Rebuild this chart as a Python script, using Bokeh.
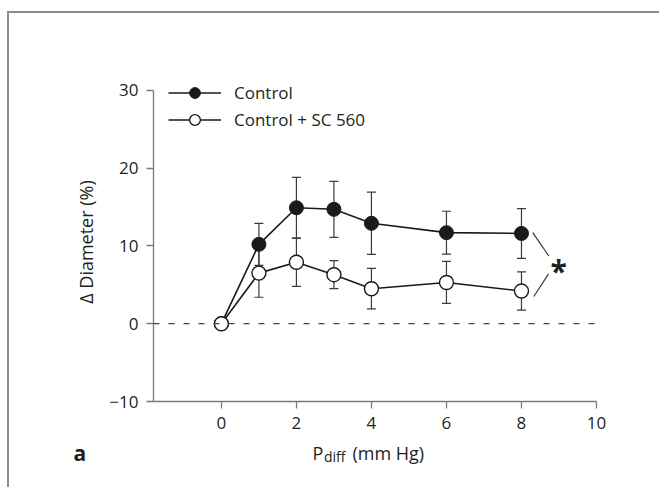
from bokeh.plotting import figure
from bokeh.layouts import column
from bokeh.models import (ColumnDataSource, Whisker, TeeHead, Span, Label, Legend,
                          LegendItem, FixedTicker, Range1d)
from bokeh.embed import file_html
from bokeh.resources import INLINE

# ---- data ----
pressure = [0, 1, 2, 3, 4, 6, 8]
control = [0, 10.2, 14.9, 14.7, 12.9, 11.7, 11.6]
control_err = [0, 2.7, 3.9, 3.6, 4.0, 2.75, 3.2]
sc560 = [0, 6.5, 7.9, 6.3, 4.5, 5.3, 4.2]
sc560_err = [0, 3.1, 3.1, 1.8, 2.6, 2.7, 2.45]
x_ticks = [0, 2, 4, 6, 8, 10]
y_ticks = [-10, 0, 10, 20, 30]
series_names = ["Control", "Control + SC 560"]

FONT = "Open Sans"
TXT = "#231f20"
AXC = "#7a7a7a"
W = 650
QH = 52

p = figure(width=W, height=422, output_backend="svg", toolbar_location=None,
           x_range=Range1d(-1.81, 10), y_range=Range1d(-10, 31),
           min_border_left=144, min_border_right=63, min_border_top=69,
           min_border_bottom=34)
p.frame_align = False
p.outline_line_color = None
p.xgrid.visible = False
p.ygrid.visible = False

for ax in (p.xaxis[0], p.yaxis[0]):
    ax.axis_line_color = AXC
    ax.axis_line_width = 1.3
    ax.major_tick_line_color = AXC
    ax.major_tick_line_width = 1.3
    ax.major_tick_out = 7
    ax.major_tick_in = 0
    ax.minor_tick_line_color = None
    ax.major_label_text_font = FONT
    ax.major_label_text_font_size = "17px"
    ax.major_label_text_color = TXT
p.xaxis.ticker = FixedTicker(ticks=x_ticks)
p.yaxis.ticker = FixedTicker(ticks=y_ticks)
p.yaxis.bounds = (y_ticks[0], y_ticks[-1])
p.yaxis.major_label_overrides = {t: (str(t).replace("-", "\u2212")) for t in y_ticks}
p.xaxis.major_label_standoff = 8
p.yaxis.major_label_standoff = 8
p.yaxis.axis_label = "\u0394 Diameter (%)"
p.yaxis.axis_label_text_font = FONT
p.yaxis.axis_label_text_font_size = "18px"
p.yaxis.axis_label_text_font_style = "normal"
p.yaxis.axis_label_text_color = TXT
p.yaxis.axis_label_standoff = 8

# zero reference line
p.add_layout(Span(location=0, dimension="width", line_color="#444444",
                  line_width=1.2, line_dash="6 9"))

# error bars (skip the baseline point)
src_c = ColumnDataSource(dict(x=pressure[1:],
                              up=[v + e for v, e in zip(control[1:], control_err[1:])],
                              lo=[v - e for v, e in zip(control[1:], control_err[1:])]))
src_s = ColumnDataSource(dict(x=pressure[1:],
                              up=[v + e for v, e in zip(sc560[1:], sc560_err[1:])],
                              lo=[v - e for v, e in zip(sc560[1:], sc560_err[1:])]))
for src in (src_c, src_s):
    w = Whisker(source=src, base="x", upper="up", lower="lo",
                line_color="#3a3a3a", line_width=1.2,
                upper_head=TeeHead(size=9, line_color="#3a3a3a", line_width=1.2),
                lower_head=TeeHead(size=9, line_color="#3a3a3a", line_width=1.2))
    p.add_layout(w)

lc = p.line(pressure, control, line_color="#1a1a1a", line_width=1.6)
mc = p.scatter(pressure, control, size=14, fill_color="#1a1a1a", line_color="#1a1a1a")
ls = p.line(pressure, sc560, line_color="#1a1a1a", line_width=1.6)
ms = p.scatter(pressure, sc560, size=14, fill_color="white", line_color="#1a1a1a",
               line_width=1.4)

# significance bracket
p.segment(x0=[8.3, 8.33], y0=[11.7, 3.5], x1=[8.73, 8.72], y1=[8.7, 6.4],
          line_color="#3a3a3a", line_width=1.2)
p.add_layout(Label(x=8.99, y=7.46, text="*", text_font=FONT, text_font_size="30px",
                   text_font_style="bold", text_color=TXT, text_align="center",
                   text_baseline="middle", y_offset=-5))

legend = Legend(items=[LegendItem(label=series_names[0], renderers=[lc, mc]),
                       LegendItem(label=series_names[1], renderers=[ls, ms])],
                location=(15, 268), glyph_width=53, glyph_height=27, spacing=0,
                label_standoff=13, padding=0, margin=0, border_line_color=None,
                background_fill_alpha=0, label_text_font=FONT,
                label_text_font_size="17px", label_text_color=TXT)
p.add_layout(legend)

# strip below the axis: x-axis title with subscript and the panel letter
q = figure(width=W, height=QH, output_backend="svg", toolbar_location=None,
           x_range=Range1d(0, W), y_range=Range1d(0, QH), min_border=0,
           x_axis_type=None, y_axis_type=None)
q.frame_align = False
q.outline_line_color = None
q.xgrid.visible = False
q.ygrid.visible = False
q.add_layout(Label(x=303, y=35, text="P", text_font=FONT, text_font_size="18px",
                   text_color=TXT, text_align="left", text_baseline="alphabetic"))
q.add_layout(Label(x=314.5, y=31, text="diff", text_font=FONT, text_font_size="14px",
                   text_color=TXT, text_align="left", text_baseline="alphabetic"))
q.add_layout(Label(x=343, y=35, text="(mm Hg)", text_font=FONT, text_font_size="18px",
                   text_color=TXT, text_align="left", text_baseline="alphabetic"))
q.add_layout(Label(x=64, y=35, text="a", text_font=FONT, text_font_size="21px",
                   text_font_style="bold", text_color=TXT, text_align="left",
                   text_baseline="alphabetic"))

layout = column(p, q, spacing=0,
                styles={"border-top": "2px solid #8c8c8c", "border-left": "2px solid #8c8c8c",
                        "margin-top": "11px", "margin-left": "7px"})

open("out.html", "w").write(file_html(layout, INLINE))
